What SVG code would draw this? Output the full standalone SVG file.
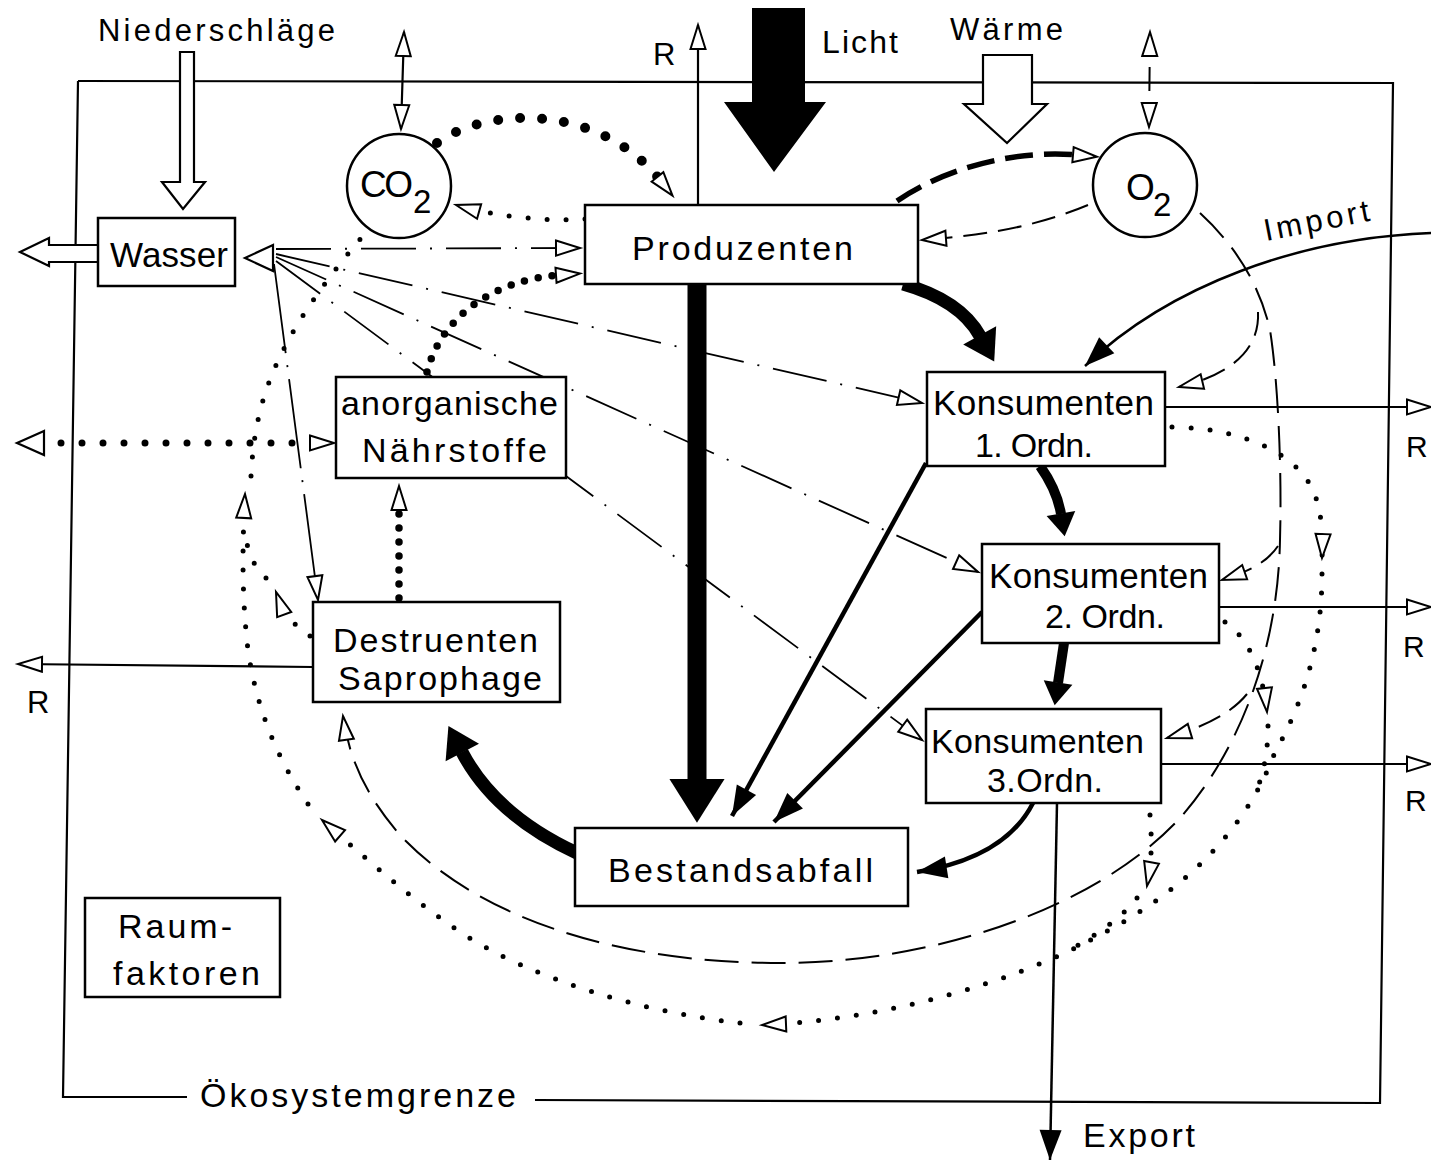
<svg xmlns="http://www.w3.org/2000/svg" width="1431" height="1160" viewBox="0 0 1431 1160">
<style>
.box{fill:#fff;stroke:#000;stroke-width:2.5}
.t{font-family:"Liberation Sans","DejaVu Sans",sans-serif;fill:#000}
.ln{fill:none;stroke:#000}
.sol{stroke-width:2.2}
.dd{stroke-width:1.8;stroke-dasharray:55 14 2 14}
.dd2{stroke-width:1.8;stroke-dasharray:90 12 2 12}
.ds{stroke-width:2;stroke-dasharray:24 11}
.dsL{stroke-width:2;stroke-dasharray:34 13}
.dsH{stroke-width:5.5;stroke-dasharray:28 11}
.dt{stroke-width:5;stroke-dasharray:0 19;stroke-linecap:round}
.dtM{stroke-width:7.5;stroke-dasharray:0 14;stroke-linecap:round}
.dtH{stroke-width:10;stroke-dasharray:0 22;stroke-linecap:round}
.thick{fill:none;stroke:#000}
.hollow{fill:#fff;stroke:#000;stroke-width:2.2}
</style>
<defs>
<marker id="ho" markerUnits="userSpaceOnUse" markerWidth="30" markerHeight="20" refX="24" refY="7.5" orient="auto" overflow="visible"><path d="M0,0 L24,7.5 L0,15 Z" fill="#fff" stroke="#000" stroke-width="2" stroke-dasharray="none"/></marker>
<marker id="hoS" markerUnits="userSpaceOnUse" markerWidth="30" markerHeight="20" refX="24" refY="7.5" orient="auto-start-reverse" overflow="visible"><path d="M0,0 L24,7.5 L0,15 Z" fill="#fff" stroke="#000" stroke-width="2" stroke-dasharray="none"/></marker>
<marker id="hoL" markerUnits="userSpaceOnUse" markerWidth="30" markerHeight="20" refX="4" refY="7.5" orient="auto" overflow="visible"><path d="M0,0 L24,7.5 L0,15 Z" fill="#fff" stroke="#000" stroke-width="2" stroke-dasharray="none"/></marker>
<marker id="fi" markerUnits="userSpaceOnUse" markerWidth="34" markerHeight="26" refX="30" refY="11" orient="auto" overflow="visible"><path d="M0,0 L30,11 L0,22 Z" fill="#000" stroke="none"/></marker>
<marker id="thk" markerUnits="strokeWidth" markerWidth="4" markerHeight="4" refX="0.05" refY="1.45" orient="auto" overflow="visible"><path d="M0,0 L2.3,1.45 L0,2.9 Z" fill="#000" stroke="none"/></marker>
</defs>
<rect width="1431" height="1160" fill="#fff"/>

<g id="boundary" class="ln sol">
<path d="M78,81 L1393,83 L1380,1103 L535,1100"/>
<path d="M78,81 L63,1097 L187,1097"/>
</g>

<g id="external-inputs">
<path class="hollow" d="M180,52 L194,52 L194,182 L205,182 L183,209 L162,182 L180,182 Z"/>
<path fill="#000" d="M752,8 L805,8 L805,102 L826,102 L774,172 L724,102 L752,102 Z"/>
<path class="hollow" d="M983,55 L1032,55 L1032,104 L1047,104 L1007,143 L964,104 L983,104 Z"/>
<path class="hollow" d="M99,245 L49,245 L49,238 L20,252 L49,266 L49,262 L99,262 Z"/>
</g>

<g id="connectors">
<path class="ln sol" d="M404,32 L401,129" marker-start="url(#hoS)" marker-end="url(#ho)"/>
<path class="ln ds" d="M1150,32 L1149,127" marker-start="url(#hoS)" marker-end="url(#ho)"/>
<path class="ln sol" d="M698,205 L698,25" marker-end="url(#ho)"/>
<path class="hollow" d="M273,245 L245,258 L273,271 Z"/>
<path class="ln dd" d="M276,249 L580,248" marker-end="url(#ho)"/>
<path class="ln dd" d="M276,254 L922,403" marker-end="url(#ho)"/>
<path class="ln dd" d="M276,257 L978,572" marker-end="url(#ho)"/>
<path class="ln dd" d="M276,261 L922,740" marker-end="url(#ho)"/>
<path class="ln dd2" d="M274,264 L318,600" marker-end="url(#ho)"/>
<path class="ln dtH" d="M437,143 C490,105 600,105 660,180" marker-end="url(#hoL)"/>
<path class="ln dt" d="M585,219 C545,222 495,216 456,205" marker-end="url(#ho)"/>
<path class="ln dsH" d="M897,201 C950,165 1020,150 1077,155" marker-end="url(#hoL)"/>
<path class="ln ds" d="M1088,205 C1040,225 990,235 922,240" marker-end="url(#ho)"/>
<path class="ln dsL" d="M1200,213 C1235,245 1260,285 1270,330 C1278,380 1282,470 1280,540 C1278,650 1240,750 1180,818 C1100,905 940,963 780,963 C620,963 480,920 400,835 C370,800 350,765 343,716" marker-end="url(#ho)"/>
<path class="ln ds" d="M1258,312 C1260,350 1230,375 1179,387" marker-end="url(#ho)"/>
<path class="ln ds" d="M1278,546 C1265,565 1245,572 1222,580" marker-end="url(#ho)"/>
<path class="ln ds" d="M1247,694 C1230,715 1200,728 1167,738" marker-end="url(#ho)"/>
<path class="ln dtM" d="M427,372 C440,320 490,280 560,275" marker-end="url(#hoL)"/>
<path class="ln dtM" d="M399,598 L399,486" marker-end="url(#ho)"/>
<path class="ln" style="stroke-width:7;stroke-dasharray:0 21;stroke-linecap:round" d="M40,443 L334,443" marker-end="url(#ho)"/>
<path class="hollow" d="M44,431 L17,443 L44,455 Z"/>
<path class="ln dt" d="M1172,427 C1245,428 1300,455 1315,495 C1322,515 1323,535 1322,558" marker-end="url(#ho)"/>
<path class="ln dt" d="M1322,574 C1322,640 1305,700 1275,752 C1250,820 1195,885 1100,935 C1010,985 880,1020 762,1025" marker-end="url(#ho)"/>
<path class="ln dt" d="M1225,622 C1245,635 1262,665 1267,712" marker-end="url(#ho)"/>
<path class="ln dt" d="M1268,726 C1268,748 1265,770 1255,795"/>
<path class="ln dt" d="M1150,815 C1152,840 1152,860 1147,886" marker-end="url(#ho)"/>
<path class="ln dt" d="M1137,898 C1120,920 1095,935 1070,950"/>
<path class="ln dt" d="M740,1023 C640,1012 530,978 460,932 C410,898 370,862 322,820" marker-end="url(#ho)"/>
<path class="ln dt" d="M308,804 C285,770 258,720 248,650 C242,600 242,550 245,494" marker-end="url(#ho)"/>
<path class="ln dt" d="M251,476 C255,400 275,340 362,237"/>
<path class="ln dt" d="M310,636 C296,628 284,614 276,592" marker-end="url(#ho)"/>
<path class="ln dt" d="M266,578 C252,565 246,548 245,528"/>
<path class="ln sol" d="M313,667 L18,664" marker-end="url(#ho)"/>
<path class="ln sol" d="M1165,407 L1431,407" marker-end="url(#ho)"/>
<path class="ln sol" d="M1219,607 L1431,607" marker-end="url(#ho)"/>
<path class="ln sol" d="M1161,764 L1431,764" marker-end="url(#ho)"/>
<path class="ln" style="stroke-width:2.5" d="M1431,233 C1300,238 1170,285 1085,366" marker-end="url(#fi)"/>
<path class="ln" style="stroke-width:2.5" d="M1057,803 L1050,1160" marker-end="url(#fi)"/>
<path class="ln" style="stroke-width:4.5" d="M926,463 L732,816" marker-end="url(#fi)"/>
<path class="ln" style="stroke-width:4.5" d="M982,612 L774,822" marker-end="url(#fi)"/>
<path class="ln" style="stroke-width:4.5" d="M1033,803 Q1005,858 917,872" marker-end="url(#fi)"/>
<path class="thick" style="stroke-width:19" d="M697,284 L697,780" marker-end="url(#thk)"/>
<path class="thick" style="stroke-width:13" d="M903,284 Q960,300 980,336" marker-end="url(#thk)"/>
<path class="thick" style="stroke-width:10" d="M1040,466 Q1057,490 1061,514" marker-end="url(#thk)"/>
<path class="thick" style="stroke-width:10" d="M1064,643 L1058,683" marker-end="url(#thk)"/>
<path class="thick" style="stroke-width:13" d="M577,853 Q495,815 462,752" marker-end="url(#thk)"/>
</g>

<g id="n-wasser"><rect class="box" x="98" y="218" width="137" height="68"/><text class="t" x="110" y="267" font-size="35" textLength="118">Wasser</text></g>
<g id="n-co2"><circle class="box" cx="399" cy="186" r="52"/><text class="t" x="360" y="197" font-size="37" textLength="53">CO</text><text class="t" x="413" y="213" font-size="33">2</text></g>
<g id="n-o2"><circle class="box" cx="1145" cy="185" r="52"/><text class="t" x="1126" y="200" font-size="37">O</text><text class="t" x="1153" y="216" font-size="33">2</text></g>
<g id="n-produzenten"><rect class="box" x="585" y="205" width="333" height="79"/><text class="t" x="632" y="260" font-size="34" textLength="221">Produzenten</text></g>
<g id="n-anorganische"><rect class="box" x="336" y="377" width="230" height="101"/><text class="t" x="341" y="415" font-size="34" textLength="217">anorganische</text><text class="t" x="362" y="462" font-size="34" textLength="185">Nährstoffe</text></g>
<g id="n-destruenten"><rect class="box" x="313" y="602" width="247" height="100"/><text class="t" x="333" y="652" font-size="34" textLength="205">Destruenten</text><text class="t" x="338" y="690" font-size="34" textLength="204">Saprophage</text></g>
<g id="n-k1"><rect class="box" x="927" y="372" width="238" height="94"/><text class="t" x="933" y="415" font-size="35" textLength="221">Konsumenten</text><text class="t" x="975" y="457" font-size="34" textLength="118">1. Ordn.</text></g>
<g id="n-k2"><rect class="box" x="982" y="544" width="237" height="99"/><text class="t" x="989" y="588" font-size="35" textLength="219">Konsumenten</text><text class="t" x="1045" y="628" font-size="34" textLength="120">2. Ordn.</text></g>
<g id="n-k3"><rect class="box" x="926" y="709" width="235" height="94"/><text class="t" x="931" y="753" font-size="34" textLength="213">Konsumenten</text><text class="t" x="987" y="792" font-size="34" textLength="116">3.Ordn.</text></g>
<g id="n-bestandsabfall"><rect class="box" x="575" y="828" width="333" height="78"/><text class="t" x="608" y="882" font-size="34" textLength="265">Bestandsabfall</text></g>
<g id="n-raumfaktoren"><rect class="box" x="85" y="898" width="195" height="99"/><text class="t" x="118" y="938" font-size="34" textLength="114">Raum-</text><text class="t" x="113" y="985" font-size="34" textLength="147">faktoren</text></g>

<g id="labels">
<text class="t" x="98" y="41" font-size="31" textLength="237">Niederschläge</text>
<text class="t" x="822" y="53" font-size="32" textLength="76">Licht</text>
<text class="t" x="950" y="40" font-size="31" textLength="113">Wärme</text>
<text class="t" x="653" y="65" font-size="31">R</text>
<text class="t" x="1266" y="241" font-size="31" textLength="107" transform="rotate(-11 1266 241)">Import</text>
<text class="t" x="1406" y="457" font-size="30">R</text>
<text class="t" x="1403" y="657" font-size="30">R</text>
<text class="t" x="1405" y="811" font-size="30">R</text>
<text class="t" x="27" y="713" font-size="31">R</text>
<text class="t" x="200" y="1107" font-size="34" textLength="316">Ökosystemgrenze</text>
<text class="t" x="1083" y="1147" font-size="34" textLength="112">Export</text>
</g>
</svg>
